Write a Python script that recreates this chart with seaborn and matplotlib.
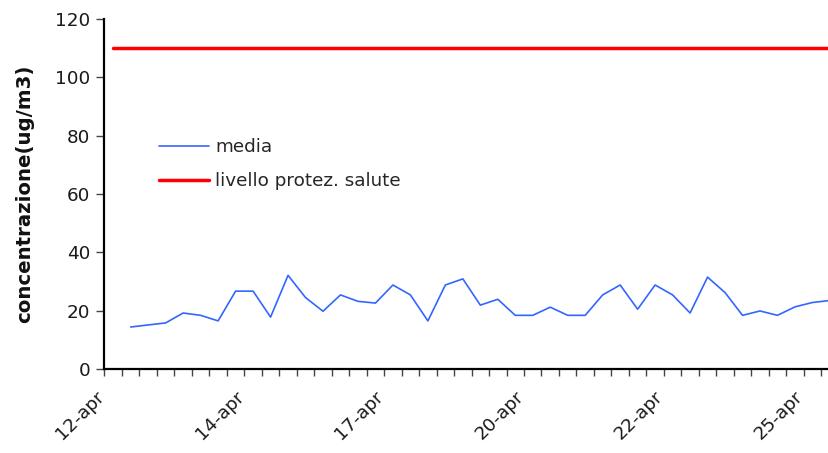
import numpy as np
import pandas as pd
import matplotlib
matplotlib.use("Agg")
import matplotlib.pyplot as plt
from matplotlib.ticker import FixedLocator
from matplotlib.lines import Line2D
import matplotlib.transforms as mtransforms
import seaborn as sns

sns.set_theme(style="white")
plt.rcParams['font.family'] = ['DejaVu Sans']

# Readings per category slot; the first slot has no average
media = [np.nan, 14.4, 15.1, 15.8, 19.2, 18.4, 16.5, 26.7, 26.7, 17.8,
         32.1, 24.5, 19.8, 25.4, 23.2, 22.6, 28.8, 25.4, 16.5, 28.8,
         30.9, 21.9, 23.9, 18.4, 18.4, 21.2, 18.4, 18.4, 25.4, 28.8,
         20.5, 28.8, 25.4, 19.2, 31.5, 26.2, 18.4, 19.9, 18.4, 21.3,
         22.8, 23.5]
limite = [110] * len(media)
tick_labels = ["12-apr", "14-apr", "17-apr", "20-apr", "22-apr", "25-apr"]
tick_every = 8

idx = np.arange(len(media))
df = pd.DataFrame({"idx": idx, "media": media, "limite": limite})

fig = plt.figure(figsize=(8.29, 4.53), dpi=100)
ax = fig.add_axes([104.5 / 829, 1 - 369 / 453, 1 - 104.5 / 829, (369 - 19) / 453])

blue = "#3366FF"
red = "#FF0000"
sns.lineplot(data=df, x="idx", y="limite", ax=ax, color=red, linewidth=2.5)
sns.lineplot(data=df, x="idx", y="media", ax=ax, color=blue, linewidth=1.2)

# category axis: boundaries every category, labels at every 8th slot
step = 17.48
ax.set_xlim(-0.5, (829 - 104.5) / step - 0.5)
ax.set_ylim(0, 120)
ax.set_yticks([0, 20, 40, 60, 80, 100, 120])

ax.xaxis.set_major_locator(FixedLocator(idx[::tick_every][:len(tick_labels)]))
ax.set_xticklabels(tick_labels, rotation=45, ha="right", va="center",
                   rotation_mode="anchor", fontsize=13.2, color="#1a1a1a")
ax.xaxis.set_minor_locator(FixedLocator(np.arange(-0.5, len(media) + 0.5, 1)))
ax.tick_params(axis="x", which="major", length=0, pad=18)
ax.tick_params(axis="x", which="minor", length=5, width=1, color="#444444",
               direction="out", bottom=True)
ax.tick_params(axis="y", length=6, width=1, color="#444444", direction="out",
               labelsize=13.2, labelcolor="#1a1a1a", left=True, pad=4)
offset = mtransforms.ScaledTranslation(-12 / 100, 0, fig.dpi_scale_trans)
for lbl in ax.get_xticklabels():
    lbl.set_transform(lbl.get_transform() + offset)

ax.set_xlabel("")
ax.set_ylabel("concentrazione(ug/m3)", fontsize=14.2, fontweight="bold",
              color="#111111", labelpad=15)

for side in ("top", "right"):
    ax.spines[side].set_visible(False)
for side in ("left", "bottom"):
    ax.spines[side].set_color("black")
    ax.spines[side].set_linewidth(1.6)

handles = [Line2D([], [], color=blue, linewidth=1.2),
           Line2D([], [], color=red, linewidth=2.5)]
ax.legend(handles, ["media", "livello protez. salute"], frameon=False,
          loc="upper left", bbox_to_anchor=(0.0655, 0.68), fontsize=13.2,
          handlelength=2.7, handletextpad=0.35, labelspacing=0.86,
          borderaxespad=0)

fig.savefig("out.png", dpi=100)
